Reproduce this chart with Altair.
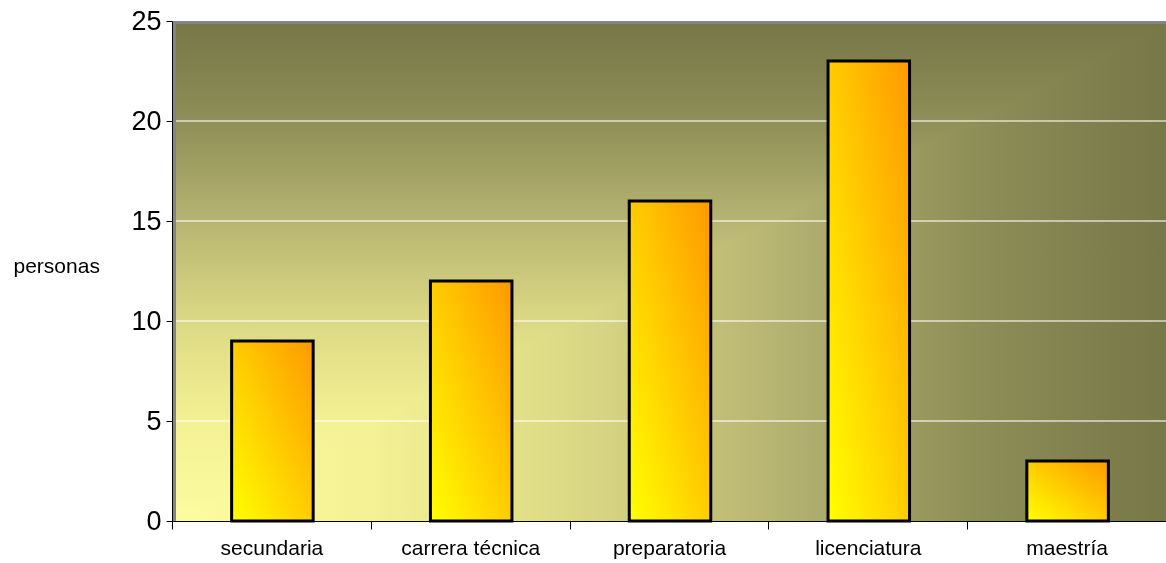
import altair as alt
import pandas as pd

categories = ["secundaria", "carrera técnica", "preparatoria", "licenciatura", "maestría"]
personas = [9, 12, 16, 23, 3]
y_ticks = [0, 5, 10, 15, 20, 25]
grid_values = [5, 10, 15, 20]

df = pd.DataFrame({"nivel": categories, "personas": personas})
grid_df = pd.DataFrame({"personas": grid_values})
one = pd.DataFrame({"a": [0]})

W, H = 994, 500
FONT = "Liberation Sans"

bg_stops = [
    alt.GradientStop(offset=0.0, color="#fcfca0"),
    alt.GradientStop(offset=0.2, color="#f3f193"),
    alt.GradientStop(offset=0.4, color="#dcd985"),
    alt.GradientStop(offset=0.6, color="#b7b572"),
    alt.GradientStop(offset=0.8, color="#8f8f58"),
    alt.GradientStop(offset=1.0, color="#777748"),
]

gray = alt.Chart(one).mark_rect(fill="#858585").encode(
    x=alt.value(0), x2=alt.value(W), y=alt.value(0), y2=alt.value(H)
)
vert = alt.Chart(one).mark_rect(
    fill=alt.LinearGradient(gradient="linear", stops=bg_stops, x1=0, y1=1, x2=0, y2=0)
).encode(x=alt.value(4), x2=alt.value(W), y=alt.value(3), y2=alt.value(H))
horiz = alt.Chart(one).mark_rect(
    blend="darken",
    fill=alt.LinearGradient(gradient="linear", stops=bg_stops, x1=0, y1=0, x2=1, y2=0),
).encode(x=alt.value(4), x2=alt.value(W), y=alt.value(3), y2=alt.value(H))

grid = alt.Chart(grid_df).mark_rule(color="white", opacity=0.55, strokeWidth=2).encode(
    y=alt.Y("personas:Q"), x=alt.value(4), x2=alt.value(W)
)

bar_grad = alt.LinearGradient(
    gradient="linear",
    stops=[
        alt.GradientStop(offset=0.0, color="#ffff00"),
        alt.GradientStop(offset=0.5, color="#ffcc00"),
        alt.GradientStop(offset=1.0, color="#ff9900"),
    ],
    x1=0, y1=1, x2=1, y2=0,
)

bars = alt.Chart(df).mark_bar(
    fill=bar_grad, stroke="black", strokeWidth=3, width=alt.RelativeBandSize(0.41),
    xOffset=1,
).encode(
    x=alt.X(
        "nivel:N", sort=categories,
        scale=alt.Scale(paddingInner=0, paddingOuter=0),
        axis=alt.Axis(
            title=None, labelAngle=0, tickBand="extent", tickSize=8, labelPadding=8,
            labelFontSize=21, labelFont=FONT, labelColor="black",
            domainColor="black", tickColor="black", grid=False, zindex=1,
        ),
    ),
    y=alt.Y(
        "personas:Q",
        scale=alt.Scale(domain=[0, 25], nice=False),
        axis=alt.Axis(
            values=y_ticks, title="personas", titleAngle=0, titleAlign="left",
            titleBaseline="middle", titleX=-159, titleY=245, titleFontSize=21,
            titleFont=FONT, titleFontWeight="normal", titleColor="black",
            labelFontSize=27, labelFont=FONT, labelColor="black", tickSize=6,
            labelPadding=5, domainColor="black", tickColor="black", grid=False, zindex=1,
        ),
    ),
)

chart = alt.layer(gray, vert, horiz, grid, bars).properties(
    width=W, height=H,
    autosize=alt.AutoSizeParams(type="none"),
    padding={"left": 172, "top": 21, "right": 0, "bottom": 42},
).configure_view(stroke=None).configure(background="white")

chart.save("out.html", embed_options={"renderer": "svg", "actions": False})
